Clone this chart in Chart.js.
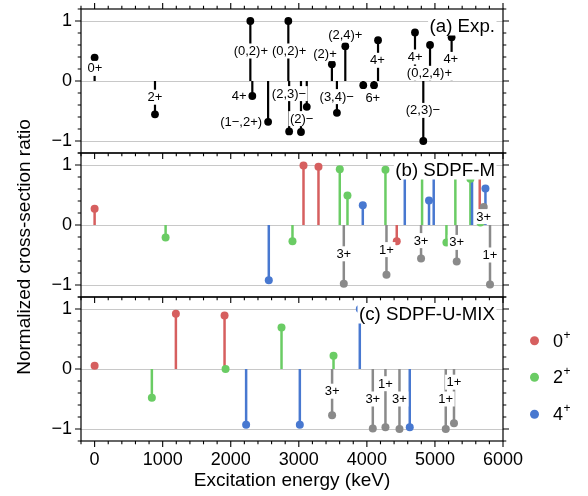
<!DOCTYPE html>
<html><head><meta charset="utf-8">
<script src="https://cdn.jsdelivr.net/npm/chart.js@4.4.0/dist/chart.umd.min.js"></script>
<style>html,body{margin:0;padding:0;background:#fff;}#wrap{width:588px;height:496px;position:relative;}</style>
</head><body><div id="wrap"><canvas id="c" width="588" height="496"></canvas></div>
<script>
// ---------- DATA ----------
// Panel (a) Experiment
const expEnergy = [0, 887, 2288, 2317, 2549, 2846, 2858, 3032, 3117, 3486, 3560, 3683, 3947, 4105, 4164, 4707, 4829, 4928, 5245];
const expRatio  = [0.39, -0.555, 1.0, -0.25, -0.68, 1.0, -0.84, -0.85, -0.43, 0.28, -0.53, 0.58, -0.07, -0.07, 0.68, 0.81, -1.0, 0.6, 0.73];
const expLabelText = ['0+', '2+', '(0,2)+', '4+', '(1\u2212,2+)', '(0,2)+', '(2,3)\u2212', '(2)\u2212', '(2)+', '(3,4)\u2212', '(2,4)+', '6+', '4+', '4+', '(2,3)\u2212', '(0,2,4)+', '4+'];
const expLabelE = [6, 887, 2295, 2123, 2153, 2858, 2856, 3042, 3385, 3557, 3683, 4087, 4155, 4709, 4824, 4919, 5233];
const expLabelR = [0.21, -0.27, 0.5, -0.25, -0.68, 0.5, -0.21, -0.627, 0.457, -0.26, 0.767, -0.29, 0.345, 0.4, -0.49, 0.128, 0.36];

// Panel (b) SDPF-M
const bRedE = [0, 3069, 3289, 4439, 5658];
const bRedR = [0.27, 0.99, 0.97, -0.27, 0.9];
const bGreenE = [1043, 2907, 3602, 3715, 4273, 4811, 5169, 5300, 5521, 5668];
const bGreenR = [-0.21, -0.27, 0.93, 0.49, 0.92, 0.97, -0.29, 0.96, 0.77, 0.04];
const bBlueE = [2559, 3940, 4557, 4913, 4982, 5545, 5742];
const bBlueR = [-0.92, 0.33, 0.95, 0.41, 0.95, 0.97, 0.61];
const bGrayE = [3661, 4288, 4796, 5320, 5717, 5809];
const bGrayR = [-0.98, -0.83, -0.56, -0.61, 0.3, -0.99];
const bGrayLabel = ['3+', '1+', '3+', '3+', '3+', '1+'];
const bGrayLabelR = [-0.48, -0.41, -0.26, -0.29, 0.14, -0.5];

// Panel (c) SDPF-U-MIX
const cRedE = [0, 1194, 1909];
const cRedR = [0.055, 0.92, 0.89];
const cGreenE = [841, 1924, 2746, 3510];
const cGreenR = [-0.48, 0.0, 0.69, 0.22];
const cBlueE = [2226, 3015, 3896, 4630];
const cBlueR = [-0.93, -0.93, 1.0, -0.97];
const cGrayE = [3489, 4087, 4273, 4479, 5159, 5280];
const cGrayR = [-0.77, -0.99, -0.97, -1.0, -1.0, -0.905];
const cGrayLabel = ['3+', '3+', '1+', '3+', '1+', '1+'];
const cGrayLabelR = [-0.37, -0.5, -0.245, -0.5, -0.5, -0.22];

const panelTitles = ['(a) Exp.', '(b) SDPF-M', '(c) SDPF-U-MIX'];
const yTickValues = [-1, 0, 1];
const xTickValues = [0, 1000, 2000, 3000, 4000, 5000, 6000];
const legendNames = ['0', '2', '4'];

// ---------- STYLE ----------
const FONT = '"Liberation Sans", Arial, Helvetica, sans-serif';
const RED = '#d65f5f', GREEN = '#6acc64', BLUE = '#4878d0', GRAY = '#8a8a8a', BLACK = '#000000';

function pts(E, R) { return E.map((e, i) => ({x: e, y: R[i]})); }
function ds(E, R, color, axis, radius) {
  return {type: 'scatter', data: pts(E, R), yAxisID: axis, backgroundColor: color, borderWidth: 0,
    pointRadius: radius, pointHoverRadius: radius, stemColor: color, stemWidth: axis === 'ya' ? 2.2 : 2.5};
}

const datasets = [
  ds(expEnergy, expRatio, BLACK, 'ya', 3.9),
  ds(bGrayE, bGrayR, GRAY, 'yb', 4),
  ds(bRedE, bRedR, RED, 'yb', 4),
  ds(bGreenE, bGreenR, GREEN, 'yb', 4),
  ds(bBlueE, bBlueR, BLUE, 'yb', 4),
  ds(cGrayE, cGrayR, GRAY, 'yc', 4),
  ds(cRedE, cRedR, RED, 'yc', 4),
  ds(cGreenE, cGreenR, GREEN, 'yc', 4),
  ds(cBlueE, cBlueR, BLUE, 'yc', 4)
];

const axisIds = ['ya', 'yb', 'yc'];

function boxText(ctx, text, x, y, font, align, hh) {
  ctx.font = font;
  const w = ctx.measureText(text).width;
  const h = hh || 7.5;
  ctx.fillStyle = '#fff';
  const x0 = align === 'right' ? x - w : x - w / 2;
  ctx.fillRect(x0 - 1.5, y - h, w + 3, 2 * h);
  ctx.fillStyle = '#000';
  ctx.textAlign = align || 'center';
  ctx.textBaseline = 'middle';
  ctx.fillText(text, x, y + 0.5);
}

const stemPlugin = {
  id: 'stems',
  beforeDatasetsDraw(chart) {
    const ctx = chart.ctx, ca = chart.chartArea;
    ctx.save();
    ctx.strokeStyle = '#c8c8c8'; ctx.lineWidth = 1;
    axisIds.forEach(id => {
      const s = chart.scales[id];
      yTickValues.forEach(v => {
        const y = Math.round(s.getPixelForValue(v)) + 0.5;
        ctx.beginPath(); ctx.moveTo(ca.left, y); ctx.lineTo(ca.right, y); ctx.stroke();
      });
    });
    chart.data.datasets.forEach((d, di) => {
      const meta = chart.getDatasetMeta(di);
      const s = chart.scales[d.yAxisID];
      const base = s.getPixelForValue(0);
      ctx.strokeStyle = d.stemColor; ctx.lineWidth = d.stemWidth; ctx.lineCap = 'butt';
      meta.data.forEach(el => {
        ctx.beginPath(); ctx.moveTo(el.x, base); ctx.lineTo(el.x, el.y); ctx.stroke();
      });
    });
    ctx.restore();
  },
  afterDatasetsDraw(chart) {
    const ctx = chart.ctx, ca = chart.chartArea, xs = chart.scales.x;
    const ya = chart.scales.ya, yb = chart.scales.yb, yc = chart.scales.yc;
    ctx.save();
    const lf = '13px ' + FONT;
    expLabelText.forEach((t, i) => boxText(ctx, t, xs.getPixelForValue(expLabelE[i]), ya.getPixelForValue(expLabelR[i]), lf));
    bGrayLabel.forEach((t, i) => boxText(ctx, t, xs.getPixelForValue(bGrayE[i]), yb.getPixelForValue(bGrayLabelR[i]), lf));
    cGrayLabel.forEach((t, i) => boxText(ctx, t, xs.getPixelForValue(cGrayE[i]), yc.getPixelForValue(cGrayLabelR[i]), lf));
    axisIds.forEach((id, k) => {
      const top = chart.scales[id].getPixelForValue(1.2);
      boxText(ctx, panelTitles[k], ca.right - 8, top + 17, '18.7px ' + FONT, 'right', 9.5);
    });
    ctx.restore();
  },
  afterDraw(chart) {
    const ctx = chart.ctx, ca = chart.chartArea, xs = chart.scales.x;
    ctx.save();
    ctx.strokeStyle = '#000'; ctx.fillStyle = '#000';
    axisIds.forEach((id, k) => {
      const s = chart.scales[id];
      const top = s.getPixelForValue(1.2), bot = s.getPixelForValue(-1.2);
      ctx.lineWidth = 1.2;
      ctx.strokeRect(ca.left, top, ca.right - ca.left, bot - top);
      ctx.lineWidth = 1.1;
      for (let j = -6; j <= 6; j++) {
        const y = s.getPixelForValue(j / 5);
        const len = (j % 5 === 0) ? 6 : 3.3;
        ctx.beginPath();
        ctx.moveTo(ca.left, y); ctx.lineTo(ca.left - len, y);
        ctx.moveTo(ca.right, y); ctx.lineTo(ca.right + len, y);
        ctx.stroke();
      }
      for (let e = -200; e <= 6000; e += 200) {
        const x = xs.getPixelForValue(e);
        const len = (e % 1000 === 0) ? 6 : 3.3;
        ctx.beginPath();
        ctx.moveTo(x, bot); ctx.lineTo(x, bot + len);
        if (k === 0) { ctx.moveTo(x, top); ctx.lineTo(x, top - len); }
        ctx.stroke();
      }
      ctx.font = '18px ' + FONT; ctx.textAlign = 'right'; ctx.textBaseline = 'middle';
      yTickValues.forEach(v => {
        const txt = v < 0 ? '\u2212' + Math.abs(v) : String(v);
        ctx.fillText(txt, ca.left - 9, s.getPixelForValue(v) + 0.5);
      });
    });
    ctx.font = '18px ' + FONT; ctx.textAlign = 'center'; ctx.textBaseline = 'middle';
    xTickValues.forEach(v => ctx.fillText(String(v), xs.getPixelForValue(v), ca.bottom + 19.5));
    ctx.font = '19px ' + FONT;
    ctx.fillText('Excitation energy (keV)', (ca.left + ca.right) / 2, ca.bottom + 39.5);
    ctx.save();
    ctx.translate(25, 247); ctx.rotate(-Math.PI / 2);
    ctx.fillText('Normalized cross-section ratio', 0, 0);
    ctx.restore();
    const lc = [RED, GREEN, BLUE];
    const ly = [340.7, 377.3, 414.3];
    legendNames.forEach((n, i) => {
      ctx.fillStyle = lc[i];
      ctx.beginPath(); ctx.arc(534.5, ly[i], 4.5, 0, Math.PI * 2); ctx.fill();
      ctx.fillStyle = '#000';
      ctx.font = '18px ' + FONT; ctx.textAlign = 'left'; ctx.textBaseline = 'middle';
      ctx.fillText(n, 553, ly[i] + 1);
      const w = ctx.measureText(n).width;
      ctx.font = '12px ' + FONT;
      ctx.fillText('+', 553 + w + 0.5, ly[i] - 5.5);
    });
    ctx.restore();
  }
};

new Chart(document.getElementById('c'), {
  type: 'scatter',
  data: {datasets},
  options: {
    responsive: false, animation: false, devicePixelRatio: 1,
    layout: {padding: {left: 81, right: 85, top: 9, bottom: 55}},
    plugins: {legend: {display: false}, tooltip: {enabled: false}},
    events: [],
    scales: {
      x: {type: 'linear', min: -200, max: 6000, display: false},
      ya: {type: 'linear', min: -6.0, max: 1.2, display: false},
      yb: {type: 'linear', min: -3.6, max: 3.6, display: false},
      yc: {type: 'linear', min: -1.2, max: 6.0, display: false}
    }
  },
  plugins: [stemPlugin]
});
</script></body></html>
